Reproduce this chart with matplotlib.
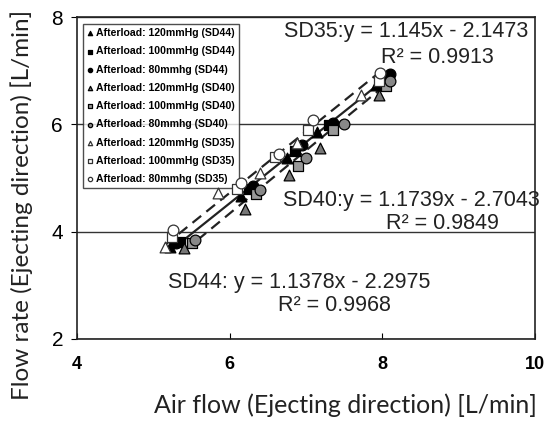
import matplotlib
matplotlib.use("Agg")
import matplotlib.pyplot as plt
import numpy as np

# ---- data ----
sd44_120_x = [5.22, 6.15, 6.75, 7.15, 7.92]
sd44_120_y = [3.72, 4.66, 5.38, 5.86, 6.74]
sd44_100_x = [5.35, 6.25, 6.85, 7.30, 8.05]
sd44_100_y = [3.80, 4.80, 5.50, 5.98, 6.87]
sd44_80_x = [5.30, 6.30, 6.95, 7.35, 8.10]
sd44_80_y = [3.78, 4.85, 5.62, 6.02, 6.93]

sd40_120_x = [5.40, 6.20, 6.78, 7.18, 7.95]
sd40_120_y = [3.70, 4.42, 5.05, 5.56, 6.55]
sd40_100_x = [5.50, 6.35, 6.90, 7.35, 8.05]
sd40_100_y = [3.78, 4.70, 5.22, 5.90, 6.72]
sd40_80_x = [5.55, 6.40, 7.00, 7.50, 8.10]
sd40_80_y = [3.85, 4.78, 5.38, 6.00, 6.80]

sd35_120_x = [5.15, 5.85, 6.40, 6.88, 7.72]
sd35_120_y = [3.72, 4.72, 5.10, 5.65, 6.55]
sd35_100_x = [5.25, 6.10, 6.60, 7.02, 7.95]
sd35_100_y = [3.90, 4.80, 5.40, 5.90, 6.80]
sd35_80_x = [5.26, 6.15, 6.65, 7.09, 7.97]
sd35_80_y = [4.03, 4.90, 5.45, 6.08, 6.95]

legend_labels = [
    "Afterload: 120mmHg (SD44)", "Afterload: 100mmHg (SD44)", "Afterload: 80mmhg (SD44)",
    "Afterload: 120mmHg (SD40)", "Afterload: 100mmHg (SD40)", "Afterload: 80mmhg (SD40)",
    "Afterload: 120mmHg (SD35)", "Afterload: 100mmHg (SD35)", "Afterload: 80mmhg (SD35)",
]
fit_slope = {"SD44": 1.1378, "SD40": 1.1739, "SD35": 1.145}
fit_icept = {"SD44": -2.2975, "SD40": -2.7043, "SD35": -2.1473}
x_ticks = [4, 6, 8, 10]
y_ticks = [2, 4, 6, 8]

plt.rcParams['font.family'] = ['Liberation Sans', 'DejaVu Sans']

fig = plt.figure(figsize=(5.45, 4.23), dpi=100)
ax = fig.add_axes([0.1413, 0.1986, 0.9817 - 0.1413, 0.9598 - 0.1986])
ax.set_xlim(4, 10)
ax.set_ylim(2, 8)

series = [
    (sd44_120_x, sd44_120_y, "^", "black", "black", "SD44"),
    (sd44_100_x, sd44_100_y, "s", "black", "black", "SD44"),
    (sd44_80_x, sd44_80_y, "o", "black", "black", "SD44"),
    (sd40_120_x, sd40_120_y, "^", "#777777", "black", "SD40"),
    (sd40_100_x, sd40_100_y, "s", "#999999", "black", "SD40"),
    (sd40_80_x, sd40_80_y, "o", "#888888", "black", "SD40"),
    (sd35_120_x, sd35_120_y, "^", "white", "#333333", "SD35"),
    (sd35_100_x, sd35_100_y, "s", "white", "#333333", "SD35"),
    (sd35_80_x, sd35_80_y, "o", "white", "#333333", "SD35"),
]

all_x = {"SD44": [], "SD40": [], "SD35": []}
for xs, ys, m, fc, ec, g in series:
    all_x[g] += xs
styles = {"SD44": "-", "SD40": (0, (5, 3)), "SD35": (0, (5, 3))}
for g in ["SD44", "SD40", "SD35"]:
    xs = np.array([min(all_x[g]), max(all_x[g])])
    ax.plot(xs, fit_slope[g] * xs + fit_icept[g], color="#222222",
            linestyle=styles[g], linewidth=1.6, zorder=2)

handles = []
for (xs, ys, m, fc, ec, g), lab in zip(series, legend_labels):
    h = ax.scatter(xs, ys, marker=m, s=60, facecolor=fc, edgecolor=ec,
                   linewidth=0.9, zorder=3, label=lab)
    handles.append(h)

ax.grid(axis="y", color="#333333", linewidth=1.0)
ax.set_axisbelow(True)
ax.set_xticks(x_ticks)
ax.set_yticks(y_ticks)
for s in ax.spines.values():
    s.set_color("#222222")
    s.set_linewidth(1.2)
ax.tick_params(axis="x", direction="in", length=4, labelsize=13, pad=12)
ax.tick_params(axis="y", direction="out", length=4, labelsize=15, pad=6)
for t in ax.get_xticklabels():
    t.set_fontweight("bold")

leg = ax.legend(handles=handles, loc="upper left", bbox_to_anchor=(0.001, 0.995),
                frameon=True, fancybox=False, edgecolor="#222222",
                handletextpad=0.25, handlelength=0.6, borderpad=0.4,
                labelspacing=0.78, markerscale=0.4,
                prop={"weight": "bold", "size": 7.6, "family": "Liberation Sans"})
leg.get_frame().set_linewidth(1.0)
leg.set_zorder(1)

fs = 15.5
def eq(x, y, s, ha):
    ax.text(x, y, s, transform=ax.transAxes, ha=ha, va="center",
            fontsize=fs, color="#222222")

eq(0.985, 0.955, "SD35:y = 1.145x - 2.1473", "right")
eq(0.91, 0.875, "R² = 0.9913", "right")
eq(1.01, 0.43, "SD40:y = 1.1739x - 2.7043", "right")
eq(0.92, 0.36, "R² = 0.9849", "right")
eq(0.198, 0.175, "SD44: y = 1.1378x - 2.2975", "left")
eq(0.685, 0.105, "R² = 0.9968", "right")

fig.text(0.633, 0.042, "Air flow (Ejecting direction) [L/min]", ha="center",
         va="center", fontsize=18, family=["Lato", "DejaVu Sans"], color="#222222")
fig.text(0.04, 0.515, "Flow rate (Ejecting direction) [L/min]", ha="center",
         va="center", rotation=90, fontsize=17.5, family=["Lato", "DejaVu Sans"],
         color="#222222")

fig.savefig("out.png", dpi=100)
